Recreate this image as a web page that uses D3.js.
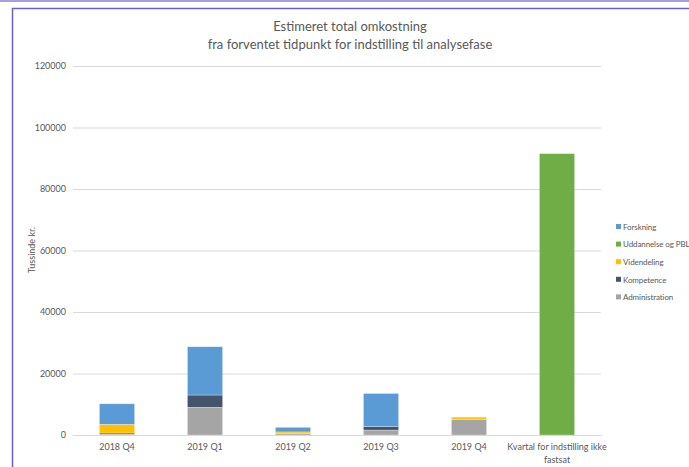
<!DOCTYPE html>
<html><head><meta charset="utf-8">
<script src="https://cdn.jsdelivr.net/npm/d3@7/dist/d3.min.js"></script>
<style>body{margin:0;background:#fff}svg{display:block}text{font-family:Lato,"Open Sans",sans-serif;fill:#595959}</style>
</head><body><svg id="c" width="689" height="467"></svg>
<script>
const categories = ["2018 Q4","2019 Q1","2019 Q2","2019 Q3","2019 Q4","Kvartal for indstilling ikke fastsat"];
const seriesNames = ["Administration","Kompetence","Videndeling","Uddannelse og PBL","Forskning"];
const administration = [300, 9000, 400, 1600, 5100, 0];
const kompetence = [350, 4000, 0, 1100, 0, 0];
const videndeling = [2800, 0, 600, 0, 700, 0];
const uddannelse = [0, 0, 0, 0, 0, 91500];
const forskning = [6700, 15700, 1500, 10800, 0, 0];
const colors = ["#A5A5A5","#44546A","#FFC000","#70AD47","#5B9BD5"];
const yTicks = [0,20000,40000,60000,80000,100000,120000];
const legendOrder = ["Forskning","Uddannelse og PBL","Videndeling","Kompetence","Administration"];

const svg = d3.select("#c");
// frame
svg.append("line").attr("x1",0).attr("x2",689).attr("y1",1).attr("y2",1).attr("stroke","#a89ee0").attr("stroke-width",2);
svg.append("path").attr("d","M12.5,467 V8.5 H689").attr("fill","none").attr("stroke","#6b5fcf").attr("stroke-width",1.5);

const rows = categories.map((c,i)=>({cat:c, Administration:administration[i], Kompetence:kompetence[i], Videndeling:videndeling[i], "Uddannelse og PBL":uddannelse[i], Forskning:forskning[i]}));
const x = d3.scaleBand().domain(categories).range([73,601]).paddingInner(0.6).paddingOuter(0.3);
const y = d3.scaleLinear().domain([0,120000]).range([435,66]);

const ya = svg.append("g").attr("transform","translate(73,0)")
  .call(d3.axisLeft(y).tickValues(yTicks).tickSize(-528).tickFormat(d=>String(d)).tickPadding(7));
ya.select(".domain").remove();
ya.selectAll(".tick line").attr("stroke","#d9d9d9");
ya.selectAll(".tick text").style("font-size","9px").attr("fill","#595959");

const stack = d3.stack().keys(seriesNames)(rows);
svg.append("g").selectAll("g").data(stack).join("g").attr("fill",(d,i)=>colors[i])
  .selectAll("rect").data(d=>d).join("rect")
  .attr("x",d=>x(d.data.cat)).attr("width",x.bandwidth())
  .attr("y",d=>y(d[1])).attr("height",d=>Math.max(0,y(d[0])-y(d[1])))
  .attr("stroke","#ffffff").attr("stroke-opacity",0.5).attr("stroke-width",0.6);

const xa = svg.append("g").attr("transform","translate(0,435)").call(d3.axisBottom(x).tickSize(0).tickPadding(9));
xa.select(".domain").attr("stroke","#d9d9d9");
xa.selectAll(".tick text").style("font-size","9px").attr("fill","#595959").each(function(d){
  if(d.length>20){
    const t=d3.select(this); t.text(null);
    t.append("tspan").attr("x",0).attr("dy","0.71em").text("Kvartal for indstilling ikke");
    t.append("tspan").attr("x",0).attr("dy","1.35em").text("fastsat");
    t.attr("dy",null);
  }
});

svg.append("text").attr("x",350).attr("y",31).attr("text-anchor","middle").style("font-size","13px").text("Estimeret total omkostning");
svg.append("text").attr("x",350).attr("y",49).attr("text-anchor","middle").style("font-size","13px").text("fra forventet tidpunkt for indstilling til analysefase");

svg.append("text").attr("transform","translate(35,250) rotate(-90)").attr("text-anchor","middle").style("font-size","9px").text("Tussinde kr.");

const lg = svg.append("g");
legendOrder.forEach((n,i)=>{
  const yy = 227 + i*17.6;
  lg.append("rect").attr("x",616).attr("y",yy-3).attr("width",5).attr("height",5).attr("fill",colors[seriesNames.indexOf(n)]);
  lg.append("text").attr("x",623).attr("y",yy).attr("dy","0.35em").style("font-size","8px").style("letter-spacing","-0.1px").text(n);
});
</script></body></html>
